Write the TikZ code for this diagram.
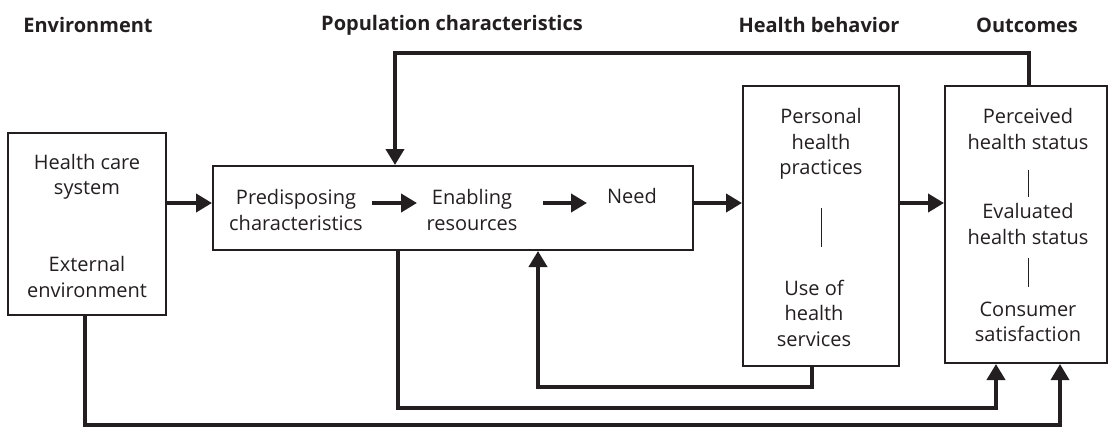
\documentclass[tikz,border=0pt]{standalone}
\usepackage{fontspec}
\setmainfont{Open Sans}
\usetikzlibrary{arrows.meta}
\definecolor{ink}{HTML}{231F20}
\begin{document}
\begin{tikzpicture}[x=1pt,y=-1pt,
  box/.style={draw=ink,line width=2pt,inner sep=0pt},
  txt/.style={font=\fontsize{20}{25.5}\selectfont,align=center,text=ink,inner sep=0pt},
  hdr/.style={font=\bfseries\fontsize{20}{24}\selectfont,text=ink,inner sep=0pt},
  arr/.style={draw=ink,line width=4pt,-{Triangle[length=16pt,width=18pt]}},
  sep/.style={draw=ink,line width=1pt}]
\useasboundingbox (0,0) rectangle (1109,428);

% headers
\node[hdr] (h1) at (88,25) {Environment};
\node[hdr] (h2) at (452,25) {Population characteristics};
\node[hdr] (h3) at (819,25) {Health behavior};
\node[hdr] (h4) at (1027,25) {Outcomes};

% boxes
\node[box,minimum width=158pt,minimum height=182pt] (env) at (87,224) {};
\node[box,minimum width=480pt,minimum height=84pt] (pop) at (453,208) {};
\node[box,minimum width=156pt,minimum height=280pt] (hb) at (821,226) {};
\node[box,minimum width=162pt,minimum height=277pt] (out) at (1026,224.5) {};

% texts
\node[txt] (env1) at (87,177) {Health care\\system};
\node[txt] (env2) at (87,277) {External\\environment};
\node[txt] (pred) at (296,210) {Predisposing\\characteristics};
\node[txt] (enab) at (472,210) {Enabling\\resources};
\node[txt] (need) at (632,196) {Need};
\node[txt] (hb1) at (821,144) {Personal\\health\\practices};
\node[txt] (hb2) at (814,313) {Use of\\health\\services};
\node[txt] (out1) at (1028,129) {Perceived\\health status};
\node[txt] (out2) at (1028,224) {Evaluated\\health status};
\node[txt] (out3) at (1028,322) {Consumer\\satisfaction};

% separators
\draw[sep] (821,208) -- (821,247);
\draw[sep] (1028,170) -- (1028,197);
\draw[sep] (1028,258) -- (1028,287);

% helper coordinates
\coordinate (a1) at (0,203);
\coordinate (tr) at (1029,53);
\coordinate (tl) at (395,53);
\coordinate (b1) at (812,387);
\coordinate (b2) at (538,387);
\coordinate (c1) at (398,408);
\coordinate (c2) at (996,408);
\coordinate (d1) at (85,425);
\coordinate (d2) at (1060,425);

% main flow arrows
\draw[arr] (env.east |- a1) -- (pop.west |- a1);
\draw[arr] (pop.east |- a1) -- (hb.west |- a1);
\draw[arr] (hb.east |- a1) -- (out.west |- a1);
\draw[arr] (372,203) -- (417,203);
\draw[arr] (543,203) -- (587,203);

% feedback loops
\draw[arr] (out.north -| tr) -- (tr) -- (tl) -- (pop.north -| tl);
\draw[arr] (hb.south -| b1) -- (b1) -- (b2) -- (pop.south -| b2);
\draw[arr] (pop.south -| c1) -- (c1) -- (c2) -- (out.south -| c2);
\draw[arr,line width=3.5pt] (env.south -| d1) -- (d1) -- (d2) -- (out.south -| d2);
\end{tikzpicture}
\end{document}
